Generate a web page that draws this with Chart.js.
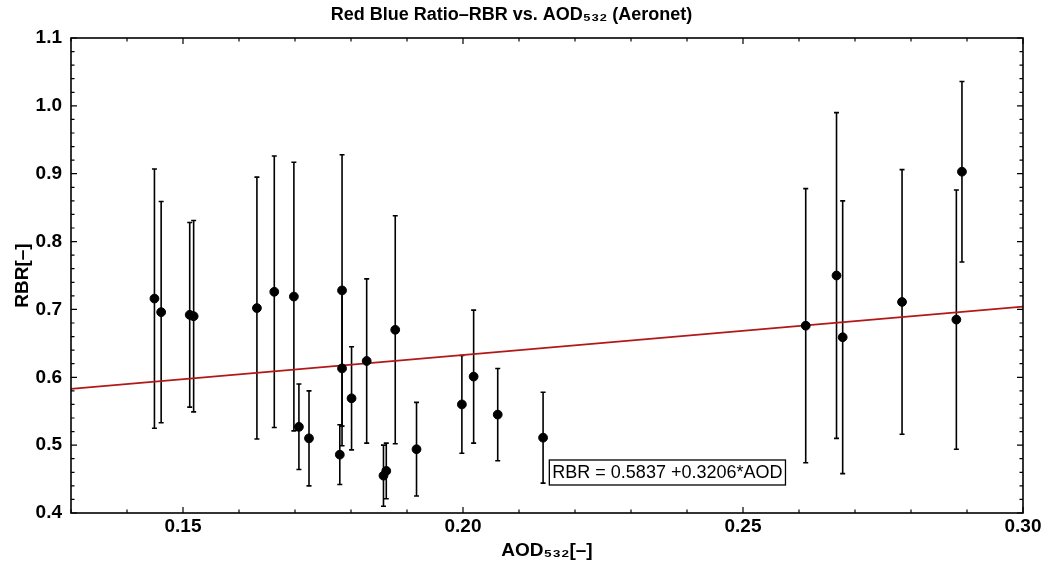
<!DOCTYPE html>
<html><head><meta charset="utf-8">
<script src="https://cdn.jsdelivr.net/npm/chart.js@4.4.0/dist/chart.umd.min.js"></script>
<style>html,body{margin:0;padding:0;background:#fff}#wrap{width:1045px;height:573px;position:relative}</style>
</head><body><div id="wrap"><canvas id="c"></canvas></div>
<script>
// ---- data ----
const aod = [0.1449, 0.1461, 0.1512, 0.1519, 0.1632, 0.1663, 0.1698, 0.1707, 0.1725, 0.1780,
             0.1784, 0.1784, 0.1801, 0.1828, 0.1858, 0.1863, 0.1879, 0.1917, 0.1998, 0.2019,
             0.2062, 0.2143, 0.2612, 0.2667, 0.2678, 0.2784, 0.2881, 0.2891];
const rbr = [0.716, 0.696, 0.692, 0.690, 0.702, 0.726, 0.719, 0.527, 0.510, 0.486,
             0.728, 0.613, 0.569, 0.624, 0.455, 0.462, 0.670, 0.494, 0.560, 0.601,
             0.545, 0.511, 0.676, 0.750, 0.659, 0.711, 0.685, 0.903];
const rbrErr = [0.191, 0.163, 0.136, 0.141, 0.193, 0.200, 0.198, 0.063, 0.070, 0.044,
                0.200, 0.114, 0.076, 0.121, 0.045, 0.041, 0.168, 0.069, 0.072, 0.098,
                0.068, 0.067, 0.202, 0.240, 0.201, 0.195, 0.191, 0.133];
const fitAod = [0.13, 0.30];
const fitRbr = [0.583, 0.704];
const xTickValues = [0.15, 0.20, 0.25, 0.30];
const yTickValues = [0.4, 0.5, 0.6, 0.7, 0.8, 0.9, 1.0, 1.1];
const titleText = 'Red Blue Ratio\u2013RBR vs. AOD\u2085\u2083\u2082 (Aeronet)';
const xTitle = 'AOD\u2085\u2083\u2082[\u2013]';
const yTitle = 'RBR[\u2013]';
const fitLabel = 'RBR = 0.5837 +0.3206*AOD';
const fitLabelAt = {x: 0.2365, y: 0.4597};

const FONT = "'Liberation Sans', Arial, sans-serif";

const errorBars = {
  id: 'errorBars',
  beforeDatasetsDraw(chart) {
    const {ctx, scales: {x, y}} = chart;
    ctx.save();
    ctx.strokeStyle = '#000';
    ctx.lineWidth = 1.6;
    for (let i = 0; i < aod.length; i++) {
      const px = x.getPixelForValue(aod[i]);
      const top = y.getPixelForValue(rbr[i] + rbrErr[i]);
      const bot = y.getPixelForValue(rbr[i] - rbrErr[i]);
      ctx.beginPath();
      ctx.moveTo(px, top); ctx.lineTo(px, bot);
      ctx.moveTo(px - 2.5, top); ctx.lineTo(px + 2.5, top);
      ctx.moveTo(px - 2.5, bot); ctx.lineTo(px + 2.5, bot);
      ctx.stroke();
    }
    ctx.restore();
  }
};

const frame = {
  id: 'frame',
  afterDraw(chart) {
    const {ctx, chartArea: a, scales: {x, y}} = chart;
    ctx.save();
    ctx.strokeStyle = '#000';
    ctx.lineWidth = 1.2;
    ctx.beginPath();
    for (let i = 0; i <= 17; i++) {
      const v = 0.13 + i * 0.01;
      const major = Math.abs(v * 20 - Math.round(v * 20)) < 1e-6;
      const L = major ? 6 : 3.5;
      const px = x.getPixelForValue(v);
      ctx.moveTo(px, a.bottom); ctx.lineTo(px, a.bottom - L);
      ctx.moveTo(px, a.top); ctx.lineTo(px, a.top + L);
    }
    for (let i = 0; i <= 35; i++) {
      const v = 0.4 + i * 0.02;
      const major = i % 5 === 0;
      const L = major ? 6 : 3.5;
      const py = y.getPixelForValue(v);
      ctx.moveTo(a.left, py); ctx.lineTo(a.left + L, py);
      ctx.moveTo(a.right, py); ctx.lineTo(a.right - L, py);
    }
    ctx.stroke();
    ctx.lineWidth = 1.6;
    ctx.strokeRect(a.left, a.top, a.right - a.left, a.bottom - a.top);
    // fit label box
    ctx.font = '18px ' + FONT;
    const tw = ctx.measureText(fitLabel).width;
    const cx = x.getPixelForValue(fitLabelAt.x);
    const cy = y.getPixelForValue(fitLabelAt.y);
    const w = tw + 6, h = 25;
    ctx.fillStyle = '#fff';
    ctx.fillRect(cx - w / 2, cy - h / 2, w, h);
    ctx.lineWidth = 1.3;
    ctx.strokeRect(cx - w / 2, cy - h / 2, w, h);
    ctx.fillStyle = '#000';
    ctx.textAlign = 'center';
    ctx.textBaseline = 'middle';
    ctx.fillText(fitLabel, cx, cy + 1);
    ctx.restore();
  }
};

new Chart(document.getElementById('c'), {
  type: 'scatter',
  data: {
    datasets: [
      {
        label: 'RBR',
        data: aod.map((v, i) => ({x: v, y: rbr[i]})),
        backgroundColor: '#000', borderColor: '#000',
        pointRadius: 4.4, pointHoverRadius: 4.4, order: 0
      },
      {
        type: 'line', label: 'fit',
        data: fitAod.map((v, i) => ({x: v, y: fitRbr[i]})),
        borderColor: 'rgb(178,24,24)', borderWidth: 1.8,
        pointRadius: 0, fill: false, order: 1
      }
    ]
  },
  options: {
    responsive: true, maintainAspectRatio: false, animation: false,
    layout: {padding: {left: 0, right: 22, top: 0, bottom: 0}},
    plugins: {
      legend: {display: false}, tooltip: {enabled: false},
      title: {display: true, text: titleText, color: '#000',
              font: {family: FONT, size: 18, weight: 'bold', lineHeight: 1.2},
              padding: {top: 4, bottom: 12.4}}
    },
    scales: {
      x: {
        type: 'linear', min: 0.13, max: 0.30,
        afterFit(s) { s.height = 60; },
        afterBuildTicks(s) { s.ticks = xTickValues.map(v => ({value: v})); },
        grid: {display: false, drawTicks: false},
        border: {display: false},
        ticks: {color: '#000', padding: 2, maxRotation: 0,
                font: {family: FONT, size: 19, weight: 'bold'},
                callback: v => v.toFixed(2)},
        title: {display: true, text: xTitle, color: '#000',
                font: {family: FONT, size: 19, weight: 'bold', lineHeight: 1.2},
                padding: {top: 0, bottom: 11}}
      },
      y: {
        type: 'linear', min: 0.4, max: 1.1,
        afterFit(s) { s.width = 71; },
        afterBuildTicks(s) { s.ticks = yTickValues.map(v => ({value: v})); },
        grid: {display: false, drawTicks: false},
        border: {display: false},
        ticks: {color: '#000', padding: 9,
                font: {family: FONT, size: 19, weight: 'bold'},
                callback: v => v.toFixed(1)},
        title: {display: true, text: yTitle, color: '#000',
                font: {family: FONT, size: 19, weight: 'bold', lineHeight: 1.2},
                padding: {top: 11, bottom: 0}}
      }
    }
  },
  plugins: [errorBars, frame]
});
</script></body></html>
